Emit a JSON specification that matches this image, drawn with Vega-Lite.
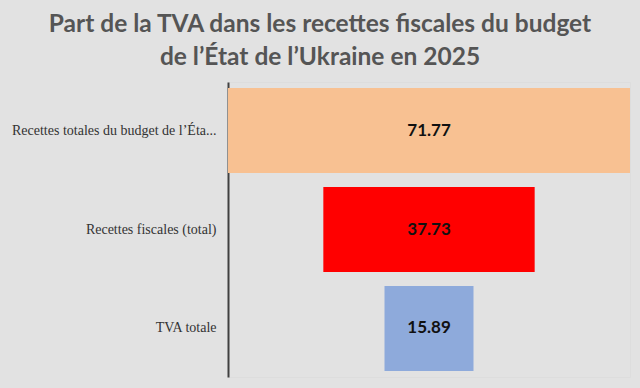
{
  "$schema": "https://vega.github.io/schema/vega-lite/v6.json",
  "autosize": "none",
  "width": 402,
  "height": 295,
  "padding": {"left": 228, "top": 82, "right": 10, "bottom": 11},
  "background": "#e2e2e2",
  "title": {
    "text": ["Part de la TVA dans les recettes fiscales du budget", "de l’État de l’Ukraine en 2025"],
    "anchor": "middle",
    "frame": "group",
    "dx": -109,
    "offset": 12,
    "font": "Lato",
    "fontSize": 24.5,
    "fontWeight": "bold",
    "color": "#555555",
    "lineHeight": 33
  },
  "data": {
    "values": [
      {"categorie": "Recettes totales du budget de l’Éta...", "valeur": 71.77, "ordre": 1},
      {"categorie": "Recettes fiscales (total)", "valeur": 37.73, "ordre": 2},
      {"categorie": "TVA totale", "valeur": 15.89, "ordre": 3}
    ]
  },
  "transform": [
    {"stack": "valeur", "groupby": ["categorie"], "offset": "center", "as": ["v0", "v1"]},
    {"calculate": "(datum.v0 + datum.v1) / 2", "as": "milieu"}
  ],
  "encoding": {
    "y": {
      "field": "categorie",
      "type": "nominal",
      "sort": {"field": "ordre"},
      "scale": {"paddingInner": 0.14, "paddingOuter": 0.06},
      "axis": {
        "title": null,
        "ticks": false,
        "grid": false,
        "domainColor": "#404040",
        "domainWidth": 2,
        "labelFont": "Liberation Serif",
        "labelFontSize": 14,
        "labelColor": "#333333",
        "labelPadding": 12,
        "labelLimit": 230
      }
    }
  },
  "layer": [
    {
      "mark": {"type": "bar"},
      "encoding": {
        "x": {"field": "v0", "type": "quantitative", "scale": {"domain": [0, 71.77], "nice": false, "zero": true}, "axis": null},
        "x2": {"field": "v1"},
        "color": {
          "field": "categorie",
          "type": "nominal",
          "scale": {
            "domain": ["Recettes totales du budget de l’Éta...", "Recettes fiscales (total)", "TVA totale"],
            "range": ["#f8c192", "#ff0000", "#8eaadb"]
          },
          "legend": null
        }
      }
    },
    {
      "mark": {"type": "text", "font": "Lato", "fontSize": 17, "fontWeight": "bold", "color": "#111111", "align": "center", "baseline": "middle"},
      "encoding": {
        "x": {"field": "milieu", "type": "quantitative"},
        "text": {"field": "valeur", "type": "quantitative", "format": ".2f"}
      }
    }
  ]
}
